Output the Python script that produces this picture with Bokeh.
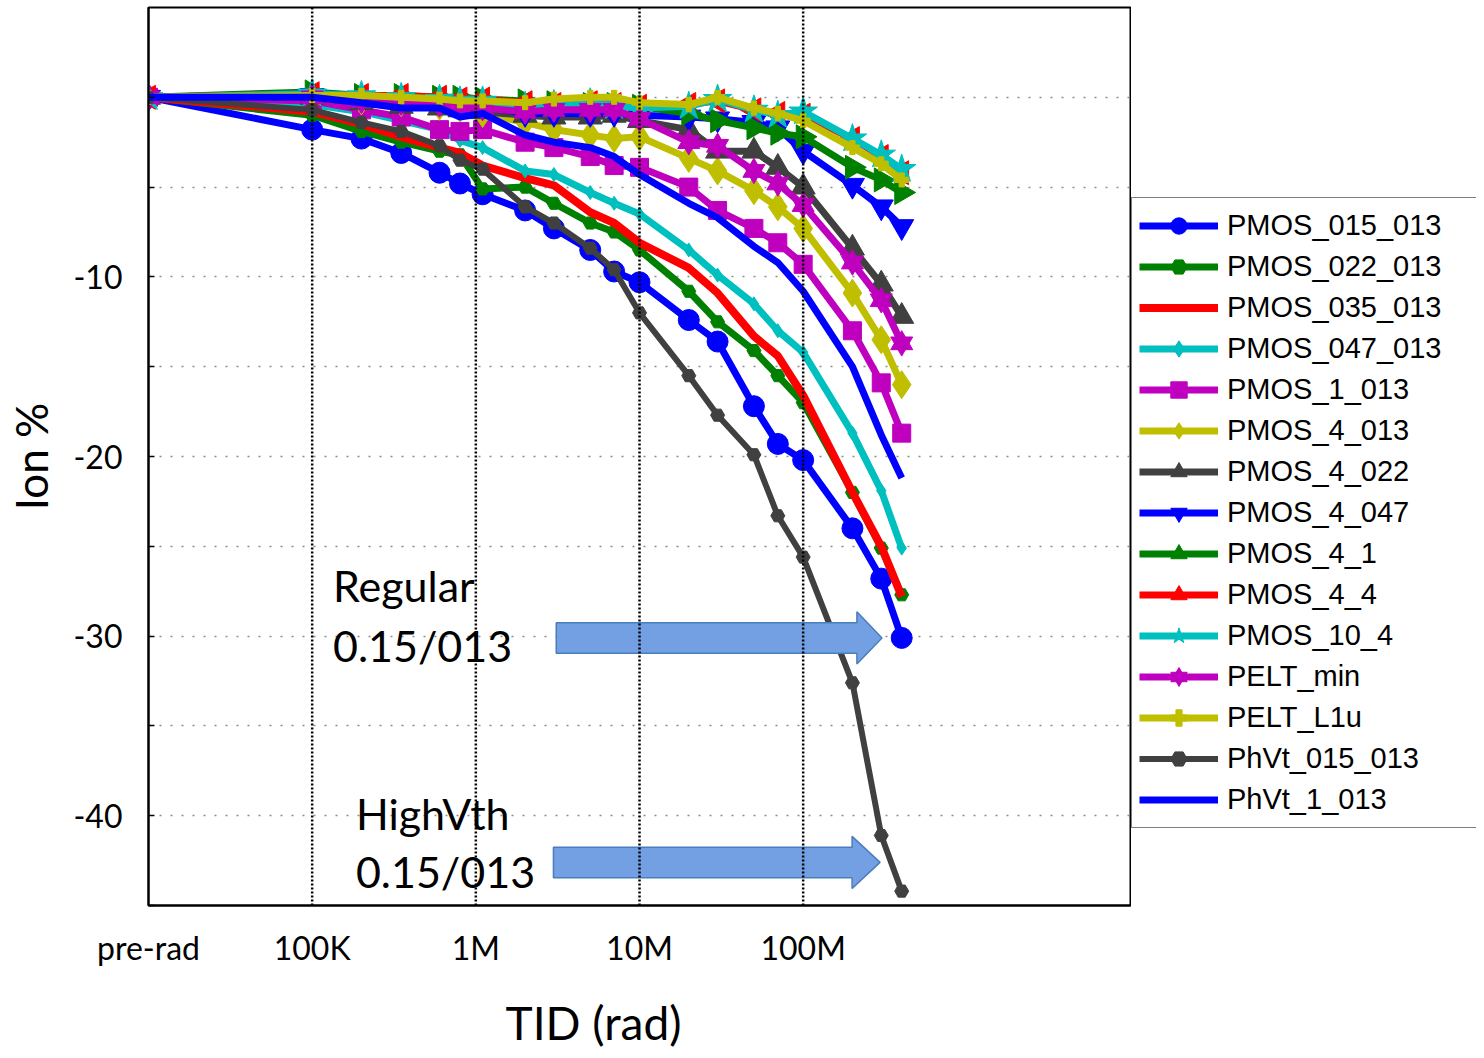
import numpy as np
from bokeh.plotting import figure
from bokeh.layouts import row
from bokeh.models import (FixedTicker, CustomJSTickFormatter, Span, Legend, LegendItem,
                          Label, Title, ColumnDataSource)
from bokeh.embed import file_html
from bokeh.resources import INLINE

# ---------------- data ----------------
# total ionising dose (rad); the first point is the pre-rad measurement, drawn at 10K
dose_rad = [1e4, 1e5, 2e5, 3.5e5, 6e5, 8e5, 1.1e6, 2e6, 3e6, 5e6, 7e6,
            1e7, 2e7, 3e7, 5e7, 7e7, 1e8, 2e8, 3e8, 4e8]

x_tick_values = [1e4, 1e5, 1e6, 1e7, 1e8]
x_tick_labels = ["pre-rad", "100K", "1M", "10M", "100M"]
y_tick_values = [-10, -20, -30, -40]
y_minor_values = [0, -5, -15, -25, -35, -45]
y_grid_values = [0, -5, -10, -15, -20, -25, -30, -35, -40]
decade_lines = [1e5, 1e6, 1e7, 1e8]

PMOS_015_013 = [0, -1.8, -2.3, -3.1, -4.2, -4.8, -5.4, -6.3, -7.3, -8.5, -9.7,
                -10.3, -12.4, -13.6, -17.2, -19.3, -20.2, -24.0, -26.8, -30.1]
PMOS_022_013 = [0, -1.0, -1.9, -2.5, -3.0, -3.2, -5.1, -5.0, -5.9, -7.0, -7.5,
                -8.5, -10.8, -12.5, -14.1, -15.5, -17.0, -22.0, -25.1, -27.7]
PMOS_035_013 = [0, -0.8, -1.5, -2.2, -2.8, -3.1, -3.8, -4.5, -4.9, -6.4, -7.0,
                -8.1, -9.5, -10.9, -13.3, -14.4, -16.6, -22.0, -25.0, -27.8]
PMOS_047_013 = [0, -0.4, -0.8, -1.3, -1.8, -2.4, -2.8, -4.1, -4.3, -5.3, -5.9,
                -6.5, -8.5, -9.9, -11.5, -13.0, -14.2, -18.7, -21.9, -25.1]
PMOS_1_013 = [0, -0.2, -0.7, -1.1, -1.8, -1.9, -1.8, -2.5, -2.8, -3.3, -3.8,
              -3.9, -5.0, -6.3, -7.3, -8.1, -9.3, -13.0, -15.9, -18.7]
PMOS_4_013 = [0, 0.0, -0.2, -0.3, -0.5, -0.6, -0.9, -1.4, -1.8, -2.1, -2.3,
              -2.2, -3.4, -4.1, -5.2, -6.1, -7.3, -10.9, -13.5, -16.0]
PMOS_4_022 = [0, 0.0, -0.3, -0.5, -0.6, -0.7, -0.8, -1.0, -1.1, -1.1, -1.0,
              -1.3, -1.8, -3.0, -3.0, -3.9, -5.0, -8.4, -10.4, -12.2]
PMOS_4_047 = [0, 0.1, -0.1, -0.2, -0.3, -0.4, -0.5, -0.9, -0.9, -0.9, -0.9,
              -1.0, -1.1, -1.2, -1.4, -1.7, -3.0, -4.9, -6.1, -7.2]
PMOS_4_1 = [0, 0.3, 0.1, 0.1, 0.0, 0.0, -0.1, -0.2, -0.3, -0.4, -0.4,
            -0.5, -0.9, -1.3, -1.7, -2.0, -2.2, -3.9, -4.6, -5.3]
PMOS_4_4 = [0, 0.2, 0.1, 0.1, 0.0, -0.1, -0.1, -0.3, -0.4, -0.3, -0.4,
            -0.5, -0.4, -0.2, -0.7, -0.9, -1.0, -2.3, -3.3, -4.2]
PMOS_10_4 = [0, 0.2, 0.1, 0.0, -0.1, -0.2, -0.2, -0.5, -0.4, -0.3, -0.5,
             -0.6, -0.5, -0.1, -0.7, -1.0, -0.8, -2.3, -3.2, -4.0]
PELT_min = [0, 0.0, -0.2, -0.3, -0.4, -0.5, -0.6, -0.8, -0.7, -0.7, -0.7,
            -1.2, -2.5, -2.7, -4.1, -4.8, -6.0, -9.2, -11.3, -13.7]
PELT_L1u = [0, 0.1, 0.1, 0.0, -0.1, -0.2, -0.2, -0.3, -0.1, 0.0, 0.0,
            -0.3, -0.4, 0.0, -0.6, -0.9, -1.3, -2.8, -3.7, -4.6]
PhVt_015_013 = [0, -0.7, -1.4, -1.9, -2.7, -3.5, -4.0, -6.1, -7.0, -8.4, -9.6,
                -12.0, -15.5, -17.7, -19.9, -23.3, -25.6, -32.6, -41.1, -44.2]
PhVt_1_013 = [0, 0.0, -0.3, -0.6, -0.6, -1.1, -0.9, -2.1, -2.5, -2.8, -3.3,
              -4.3, -5.9, -6.7, -8.3, -9.2, -10.8, -15.0, -18.8, -21.2]

# annotation texts and arrows (x in rad, y in %)
note_texts = ["Regular", "0.15/013", "HighVth", "0.15/013"]
note_x = [1.34e5, 1.34e5, 1.85e5, 1.85e5]
note_y = [-27.2, -30.5, -39.9, -43.1]
arrow_start = [3.1e6, 2.98e6]
arrow_neck = [2.13e8, 1.99e8]
arrow_tip = [3.03e8, 2.95e8]
arrow_y = [-30.1, -42.6]

# ---------------- styles ----------------
BLUE, GREEN, RED, CYAN = "#0000FF", "#008000", "#FF0000", "#00BFBF"
MAG, OLIVE, DGRAY = "#BF00BF", "#BFBF00", "#404040"
series = [
    ("PMOS_015_013", PMOS_015_013, BLUE, ["circle"], 21, 0, 7),
    ("PMOS_022_013", PMOS_022_013, GREEN, ["hex"], 14, 0, 7),
    ("PMOS_035_013", PMOS_035_013, RED, [], 0, 0, 8),
    ("PMOS_047_013", PMOS_047_013, CYAN, ["diamond"], 14, 0, 7),
    ("PMOS_1_013", PMOS_1_013, MAG, ["square"], 18, 0, 7),
    ("PMOS_4_013", PMOS_4_013, OLIVE, ["diamond"], 28, 0, 7),
    ("PMOS_4_022", PMOS_4_022, DGRAY, ["triangle"], 24, 0, 7),
    ("PMOS_4_047", PMOS_4_047, BLUE, ["inverted_triangle"], 24, 0, 7),
    ("PMOS_4_1", PMOS_4_1, GREEN, ["triangle"], 24, -np.pi / 2, 7),
    ("PMOS_4_4", PMOS_4_4, RED, ["triangle"], 24, np.pi / 2, 7),
    ("PMOS_10_4", PMOS_10_4, CYAN, ["star"], 30, 0, 7),
    ("PELT_min", PELT_min, MAG, ["triangle", "inverted_triangle"], 22, 0, 7),
    ("PELT_L1u", PELT_L1u, OLIVE, ["plus"], 14, 0, 7),
    ("PhVt_015_013", PhVt_015_013, DGRAY, ["hex"], 14, 0, 6),
    ("PhVt_1_013", PhVt_1_013, BLUE, [], 0, 0, 7),
]

TICK_FONT = "Lato"
FIG_H = 1050

p = figure(width=1131, height=FIG_H, x_axis_type="log", x_range=(1e4, 1e10),
           y_range=(-45, 5), output_backend="svg", toolbar_location=None,
           min_border_left=148, min_border_right=1, min_border_top=7,
           min_border_bottom=145)
p.background_fill_color = "white"
p.border_fill_color = "white"
p.outline_line_color = "black"
p.outline_line_width = 2
p.outline_line_alpha = 1

# axes
p.xaxis.ticker = FixedTicker(ticks=x_tick_values, minor_ticks=[])
p.xaxis.formatter = CustomJSTickFormatter(
    args=dict(vals=x_tick_values, labs=x_tick_labels),
    code="""
    for (let i = 0; i < vals.length; i++) {
        if (Math.abs(Math.log10(tick) - Math.log10(vals[i])) < 1e-6) return labs[i];
    }
    return "";
    """)
p.xaxis.major_tick_in = 0
p.xaxis.major_tick_out = 0
p.xaxis.minor_tick_in = 0
p.xaxis.minor_tick_out = 0
p.xaxis.axis_line_width = 2
p.xaxis.major_label_standoff = 22
p.xaxis.major_label_text_font = TICK_FONT
p.xaxis.major_label_text_font_size = "32px"
p.xaxis.major_label_text_color = "black"

p.yaxis.ticker = FixedTicker(ticks=y_tick_values, minor_ticks=y_minor_values)
p.yaxis.formatter = CustomJSTickFormatter(code="return String(tick);")
p.yaxis.major_tick_in = 6
p.yaxis.major_tick_out = 0
p.yaxis.minor_tick_in = 6
p.yaxis.minor_tick_out = 0
p.yaxis.major_tick_line_width = 1.5
p.yaxis.minor_tick_line_width = 1.5
p.yaxis.axis_line_width = 2
p.yaxis.major_label_standoff = 26
p.yaxis.major_label_text_font = TICK_FONT
p.yaxis.major_label_text_font_size = "32px"
p.yaxis.major_label_text_color = "black"
p.yaxis.axis_label = "Ion %"
p.yaxis.axis_label_text_font = TICK_FONT
p.yaxis.axis_label_text_font_size = "44px"
p.yaxis.axis_label_text_font_style = "normal"
p.yaxis.axis_label_text_color = "black"
p.yaxis.axis_label_standoff = 13

# grid
p.xgrid.visible = False
p.ygrid.ticker = FixedTicker(ticks=y_grid_values)
p.ygrid.grid_line_color = "#8c8c8c"
p.ygrid.grid_line_width = 1.5
p.ygrid.grid_line_dash = "2 9"

# legend lives in a narrow companion figure to the right of the plot box
p2 = figure(width=345, height=FIG_H, x_range=(0, 1), y_range=(0, 1),
            output_backend="svg", toolbar_location=None,
            x_axis_location=None, y_axis_location=None, min_border=0)
p2.outline_line_color = None
p2.background_fill_color = "white"
p2.border_fill_color = "white"
p2.xgrid.visible = False
p2.ygrid.visible = False

# series
items = []
for name, vals, color, markers, size, ang, lw in series:
    src = ColumnDataSource(dict(x=dose_rad, y=vals))
    p.line("x", "y", source=src, line_color=color, line_width=lw)
    for m in markers:
        p.scatter("x", "y", source=src, marker=m, size=size, angle=ang,
                  fill_color=color, line_color=color, line_width=1)
    # legend swatches (same styling, no visible data) in the legend figure
    blank = ColumnDataSource(dict(x=[np.nan], y=[np.nan]))
    rs = [p2.line("x", "y", source=blank, line_color=color, line_width=lw)]
    for m in markers:
        rs.append(p2.scatter("x", "y", source=blank, marker=m, size=size, angle=ang,
                             fill_color=color, line_color=color, line_width=1))
    items.append(LegendItem(label=name, renderers=rs))

# block arrows
for x0, x1, x2, yc in zip(arrow_start, arrow_neck, arrow_tip, arrow_y):
    bh, hh = 0.85, 1.45
    p.patch([x0, x1, x1, x2, x1, x1, x0],
            [yc + bh, yc + bh, yc + hh, yc, yc - hh, yc - bh, yc - bh],
            fill_color="#72A0E2", line_color="#4A7EBB", line_width=1.5)

# annotation texts
for t, tx, ty in zip(note_texts, note_x, note_y):
    p.add_layout(Label(x=tx, y=ty, text=t, text_font=TICK_FONT, text_font_size="43px",
                       text_color="black", text_baseline="alphabetic", text_align="left"))

# vertical dotted decade lines
for d in decade_lines:
    p.add_layout(Span(location=d, dimension="height", line_color="black",
                      line_width=2.5, line_dash="2 2"))

# x axis title (spacer first, then the title sitting at the bottom edge)
p.add_layout(Title(text=" ", text_font_size="2px", standoff=19), "below")
p.add_layout(Title(text="TID (rad)", align="left", offset=357, text_font=TICK_FONT,
                   text_font_size="46px", text_font_style="normal", text_color="black",
                   vertical_align="bottom", standoff=0), "below")

legend = Legend(items=items, location=(0, 77), orientation="vertical",
                label_text_font="Liberation Sans", label_text_font_size="29px",
                label_text_color="black",
                glyph_width=79, glyph_height=41, label_height=41, label_width=260,
                label_standoff=9, spacing=0, padding=7, margin=0,
                border_line_color="black", border_line_width=1.5,
                background_fill_color="white", background_fill_alpha=1)
p2.add_layout(legend)

layout = row(p, p2)
open("out.html", "w").write(file_html(layout, INLINE))
